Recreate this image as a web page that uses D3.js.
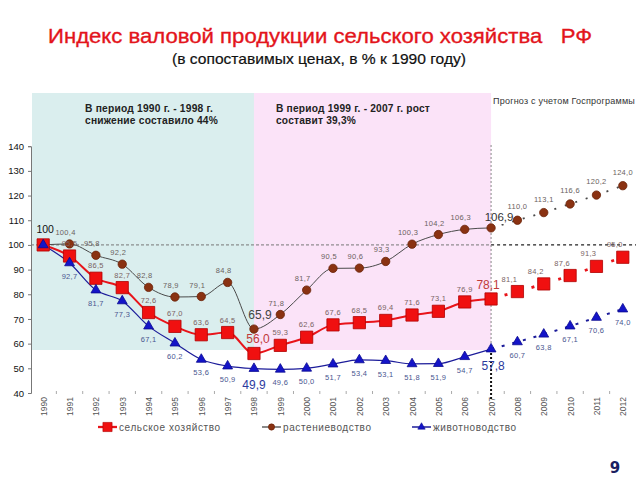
<!DOCTYPE html>
<html>
<head>
<meta charset="utf-8">
<script src="https://cdnjs.cloudflare.com/ajax/libs/d3/7.8.5/d3.min.js"></script>
<style>
  html, body { margin: 0; padding: 0; background: #fff; }
  svg { display: block; font-family: "Liberation Sans", Arial, sans-serif; }
</style>
</head>
<body>
<svg id="chart" width="640" height="480"></svg>
<script>
const years = ["1990","1991","1992","1993","1994","1995","1996","1997","1998","1999","2000","2001","2002","2003","2004","2005","2006","2007","2008","2009","2010","2011","2012"];
const agriculture = [100, 95.5, 86.5, 82.7, 72.6, 67.0, 63.6, 64.5, 56.0, 59.3, 62.6, 67.6, 68.5, 69.4, 71.6, 73.1, 76.9, 78.1, 81.1, 84.2, 87.6, 91.3, 95.0];
const crops = [100, 100.4, 95.8, 92.2, 82.8, 78.9, 79.1, 84.8, 65.9, 71.8, 81.7, 90.5, 90.6, 93.3, 100.3, 104.2, 106.3, 106.9, 110.0, 113.1, 116.6, 120.2, 124.0];
const livestock = [100, 92.7, 81.7, 77.3, 67.1, 60.2, 53.6, 50.9, 49.9, 49.6, 50.0, 51.7, 53.4, 53.1, 51.8, 51.9, 54.7, 57.8, 60.7, 63.8, 67.1, 70.6, 74.0];
const yTicks = [40, 50, 60, 70, 80, 90, 100, 110, 120, 130, 140];
const seriesNames = ["сельское хозяйство", "растениеводство", "животноводство"];
const lastFactYear = "2007";
const crisisYear = "1998";

const svg = d3.select("#chart");
const x = d3.scalePoint().domain(years).range([43.2, 622.8]);
const y = d3.scaleLinear().domain([40, 140]).range([393, 146.2]);
const fmt = v => d3.format(".1f")(v).replace(".", ",");

// Titles
svg.append("text").attr("x", 320).attr("y", 43).attr("text-anchor", "middle")
  .style("white-space", "pre")
  .attr("fill", "#e3141b").attr("font-size", 21).attr("stroke", "#e3141b").attr("stroke-width", 0.35)
  .attr("font-family", "'Liberation Sans Narrow', 'Liberation Sans', Arial, sans-serif")
  .attr("textLength", 544).attr("lengthAdjust", "spacingAndGlyphs")
  .text("Индекс валовой продукции сельского хозяйства   РФ");
svg.append("text").attr("x", 319).attr("y", 64).attr("text-anchor", "middle")
  .attr("fill", "#111").attr("font-size", 15).attr("stroke", "#111").attr("stroke-width", 0.2)
  .attr("font-family", "'Liberation Sans Narrow', 'Liberation Sans', Arial, sans-serif")
  .attr("textLength", 294).attr("lengthAdjust", "spacingAndGlyphs")
  .text("(в сопоставимых ценах, в % к 1990 году)");

// Period backgrounds
const bandTop = 93, bandBottom = 350;
svg.append("rect").attr("x", 32).attr("y", bandTop)
  .attr("width", x(crisisYear) - 32).attr("height", bandBottom - bandTop).attr("fill", "#daeeee");
svg.append("rect").attr("x", x(crisisYear)).attr("y", bandTop)
  .attr("width", x(lastFactYear) - x(crisisYear)).attr("height", bandBottom - bandTop).attr("fill", "#fbe3f8");

const note = (t, xx, yy, opts = {}) => svg.append("text").attr("x", xx).attr("y", yy)
  .attr("font-size", opts.size || 10).attr("font-weight", opts.weight || "bold")
  .attr("fill", opts.fill || "#222").attr("letter-spacing", opts.ls || 0.2)
  .attr("textLength", opts.len || null).attr("lengthAdjust", "spacingAndGlyphs").text(t);
note("В период 1990 г. - 1998 г.", 85, 112, {len: 128});
note("снижение составило 44%", 85, 124, {len: 133});
note("В период 1999 г. - 2007 г. рост", 276, 112, {len: 154});
note("составит 39,3%", 276, 124, {len: 80});
note("Прогноз с учетом Госпрограммы", 493, 104, {size: 8.5, weight: "normal", fill: "#333", len: 142});

// Y axis
const yAxis = svg.append("g").attr("transform", "translate(31,0)")
  .call(d3.axisLeft(y).tickValues(yTicks).tickSize(3).tickFormat(d3.format("d")));
yAxis.select(".domain").attr("stroke", "#777");
yAxis.selectAll(".tick line").attr("stroke", "#777");
yAxis.selectAll(".tick text").attr("font-size", 9.5).attr("fill", "#111").attr("x", -7)
  .attr("font-family", "'Liberation Sans', Arial, sans-serif");

// X axis (labels rotated)
const xAxis = svg.append("g").attr("transform", "translate(0,393)")
  .call(d3.axisBottom(x).tickSize(0));
xAxis.select(".domain").remove();
xAxis.selectAll(".tick text")
  .attr("transform", "rotate(-90)").attr("text-anchor", "end")
  .attr("x", -4).attr("y", 0).attr("dy", "0.35em")
  .attr("font-size", 8.5).attr("fill", "#555")
  .attr("font-family", "'Liberation Sans', Arial, sans-serif");
svg.append("g").selectAll("line").data(years.slice(1)).join("line")
  .attr("x1", d => x(d) - x.step() / 2).attr("x2", d => x(d) - x.step() / 2)
  .attr("y1", 391).attr("y2", 394).attr("stroke", "#aaa");

// Reference lines
svg.append("line").attr("x1", 31).attr("x2", x(lastFactYear)).attr("y1", y(100)).attr("y2", y(100))
  .attr("stroke", "#777").attr("stroke-dasharray", "3,2");
svg.append("line").attr("x1", x(lastFactYear)).attr("x2", 636).attr("y1", y(100)).attr("y2", y(100))
  .attr("stroke", "#222").attr("stroke-dasharray", "3,3").attr("stroke-width", 1.2);
svg.append("line").attr("x1", x(lastFactYear)).attr("x2", x(lastFactYear)).attr("y1", 145).attr("y2", 345)
  .attr("stroke", "#888").attr("stroke-dasharray", "2,2");
svg.append("line").attr("x1", x(lastFactYear)).attr("x2", x(lastFactYear)).attr("y1", 345).attr("y2", 400)
  .attr("stroke", "#111").attr("stroke-dasharray", "2,2").attr("stroke-width", 2);

const lastIdx = years.indexOf(lastFactYear);
const series = [
  {name: seriesNames[0], vals: agriculture, color: "#e8141a", width: 2, dash: "3,11", marker: "square", mfill: "#f01010", mstroke: "#b00000", lfill: "#7a6464", ldx: 0, ldy: -10, fdx: -8, fdy: -10},
  {name: seriesNames[1], vals: crops, color: "#4a4a4a", width: 1, dash: "2,9", marker: "circle", mfill: "#8a3212", mstroke: "#6a2208", lfill: "#6b625e", ldx: -4, ldy: -9, fdx: 0, fdy: -11},
  {name: seriesNames[2], vals: livestock, color: "#1c1c9a", width: 1.2, dash: "3,8", marker: "triangle", mfill: "#1414c8", mstroke: "#0a0a90", lfill: "#4a5690", ldx: 0, ldy: 16, fdx: 0, fdy: 16}
];

const markerPath = {
  square: d3.symbol(d3.symbolSquare, 150)(),
  circle: d3.symbol(d3.symbolCircle, 55)(),
  triangle: d3.symbol(d3.symbolTriangle, 42)()
};

const line = d3.line().x(d => x(d.year)).y(d => y(d.v)).curve(d3.curveMonotoneX);

series.forEach(s => {
  const pts = years.map((yr, i) => ({year: yr, v: s.vals[i], i}));
  const hist = pts.slice(0, lastIdx + 1), fc = pts.slice(lastIdx);
  svg.append("path").datum(hist).attr("d", line).attr("fill", "none")
    .attr("stroke", s.color).attr("stroke-width", s.width);
  svg.append("path").datum(fc).attr("d", line).attr("fill", "none")
    .attr("stroke", s.color).attr("stroke-width", s.width + 0.8).attr("stroke-dasharray", s.dash);
  s.pts = pts;
});

// markers: crops, then agriculture, then livestock on top
[series[1], series[0], series[2]].forEach(s => {
  svg.append("g").selectAll("path").data(s.pts).join("path")
    .attr("d", markerPath[s.marker])
    .attr("transform", d => `translate(${x(d.year)},${y(d.v)})`)
    .attr("fill", s.mfill).attr("stroke", s.mstroke).attr("stroke-width", 0.8);
});

// data labels
const big = new Set([crisisYear, lastFactYear]);
series.forEach(s => {
  svg.append("g").selectAll("text")
    .data(s.pts.filter(d => d.i > 0 && !big.has(d.year))).join("text")
    .attr("x", d => x(d.year) + (d.i > lastIdx ? s.fdx : s.ldx))
    .attr("y", d => y(d.v) + (d.i > lastIdx ? s.fdy : s.ldy))
    .attr("text-anchor", "middle").attr("font-size", 7.5).attr("fill", s.lfill)
    .attr("letter-spacing", 0.3)
    .text(d => fmt(d.v));
});
// emphasised labels
svg.append("text").attr("x", x(years[0]) + 2).attr("y", 233).attr("text-anchor", "middle")
  .attr("font-size", 10.5).attr("fill", "#111").text(d3.format("d")(agriculture[0]));
const bigLabel = (s, yr, dx, dy, fill, size) => {
  const i = years.indexOf(yr);
  svg.append("text").attr("x", x(yr) + dx).attr("y", y(s.vals[i]) + dy)
    .attr("text-anchor", "middle").attr("font-size", size).attr("fill", fill)
    .text(fmt(s.vals[i]));
};
bigLabel(series[1], crisisYear, 6, -10, "#444", 12);
bigLabel(series[0], crisisYear, 4, -11, "#c03a3a", 12);
bigLabel(series[2], crisisYear, 0, 20, "#2b3a9e", 12);
bigLabel(series[1], lastFactYear, 8, -7, "#333", 11.5);
bigLabel(series[0], lastFactYear, -3, -10, "#c03a3a", 12);
bigLabel(series[2], lastFactYear, 2, 21, "#2b3a9e", 12);

// Legend
const legend = [
  {s: series[0], x0: 98},
  {s: series[1], x0: 262},
  {s: series[2], x0: 412}
];
legend.forEach(L => {
  const g = svg.append("g").attr("transform", `translate(${L.x0},427)`);
  g.append("line").attr("x1", 0).attr("x2", 19).attr("stroke", L.s.color).attr("stroke-width", L.s.width + 0.3);
  g.append("path").attr("d", markerPath[L.s.marker]).attr("transform", `translate(9.5,0) scale(0.75)`)
    .attr("fill", L.s.mfill).attr("stroke", L.s.mstroke).attr("stroke-width", 0.8);
  g.append("text").attr("x", 21).attr("y", 3.5).attr("font-size", 10).attr("fill", "#555")
    .attr("letter-spacing", 0.6).text(L.s.name);
});

// Page number
svg.append("text").attr("x", 615).attr("y", 473).attr("text-anchor", "middle")
  .attr("font-size", 15).attr("font-weight", "bold").attr("fill", "#1a2060")
  .attr("font-family", "'DejaVu Sans', sans-serif").text("9");
</script>
</body>
</html>
